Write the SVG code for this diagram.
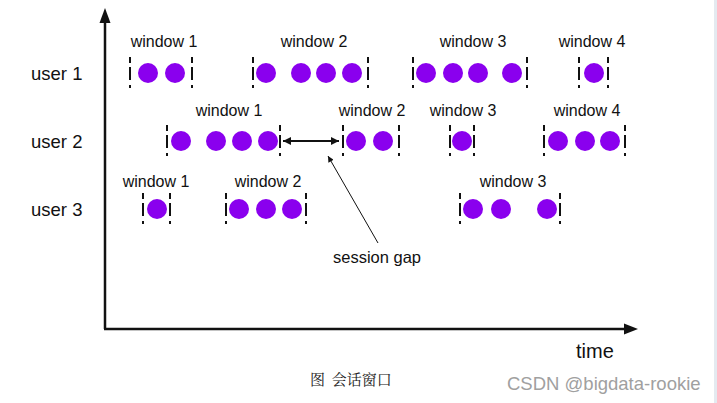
<svg xmlns="http://www.w3.org/2000/svg" width="717" height="403" viewBox="0 0 717 403">
<style>
.t{font-family:"Liberation Sans",Arial,sans-serif;fill:#111}
.w{font-size:16px;text-anchor:middle}
.u{font-size:18.5px}
.d{fill:#8a00ee}
.b{stroke:#111;stroke-width:2;stroke-dasharray:6 4 13 5 3}
.ax{stroke:#111;stroke-width:2.5;fill:none}
</style>
<defs>
<marker id="ah" viewBox="0 0 10 10" refX="10" refY="5" markerWidth="12" markerHeight="8" markerUnits="userSpaceOnUse" orient="auto-start-reverse"><path d="M0 0L10 5L0 10z" fill="#111"/></marker>
<marker id="ah2" viewBox="0 0 10 10" refX="10" refY="5" markerWidth="8" markerHeight="6" markerUnits="userSpaceOnUse" orient="auto"><path d="M0 0L10 5L0 10z" fill="#111"/></marker>
</defs>
<rect width="717" height="403" fill="#fff"/>
<rect x="714" y="0" width="3" height="403" fill="#e4eaf0"/>
<g id="axes">
<path class="ax" d="M105 329V22"/>
<path d="M105 8L99.5 23H110.5z" fill="#111"/>
<path class="ax" d="M104 329H626"/>
<path d="M638 329L624 323.5V334.5z" fill="#111"/>
<text class="t" x="576" y="358" style="font-size:20px">time</text>
</g>
<g id="labels">
<text class="t u" x="31" y="80">user 1</text>
<text class="t u" x="31" y="148">user 2</text>
<text class="t u" x="31" y="216">user 3</text>
</g>
<g id="u1w1"><text class="t w" x="164" y="47">window 1</text><path class="b" d="M130 57V88M192 57V88"/><circle class="d" cx="148" cy="73" r="10"/><circle class="d" cx="175" cy="73" r="10"/></g>
<g id="u1w2"><text class="t w" x="314" y="47">window 2</text><path class="b" d="M253 57V88M368 57V88"/><circle class="d" cx="266" cy="73" r="10"/><circle class="d" cx="301" cy="73" r="10"/><circle class="d" cx="326" cy="73" r="10"/><circle class="d" cx="352" cy="73" r="10"/></g>
<g id="u1w3"><text class="t w" x="473" y="47">window 3</text><path class="b" d="M413 57V88M527 57V88"/><circle class="d" cx="426" cy="73" r="10"/><circle class="d" cx="453" cy="73" r="10"/><circle class="d" cx="478" cy="73" r="10"/><circle class="d" cx="512" cy="73" r="10"/></g>
<g id="u1w4"><text class="t w" x="592" y="47">window 4</text><path class="b" d="M579 57V88M608 57V88"/><circle class="d" cx="594" cy="73" r="10"/></g>
<g id="u2w1"><text class="t w" x="229" y="116">window 1</text><path class="b" d="M167 125V156M280 125V156"/><circle class="d" cx="181" cy="141" r="10"/><circle class="d" cx="216" cy="141" r="10"/><circle class="d" cx="242" cy="141" r="10"/><circle class="d" cx="268" cy="141" r="10"/></g>
<g id="u2w2"><text class="t w" x="372" y="116">window 2</text><path class="b" d="M343 125V156M399 125V156"/><circle class="d" cx="356" cy="141" r="10"/><circle class="d" cx="383" cy="141" r="10"/></g>
<g id="u2w3"><text class="t w" x="463" y="116">window 3</text><path class="b" d="M450 125V156M474 125V156"/><circle class="d" cx="462" cy="141" r="10"/></g>
<g id="u2w4"><text class="t w" x="587" y="116">window 4</text><path class="b" d="M544 125V156M625 125V156"/><circle class="d" cx="558" cy="141" r="10"/><circle class="d" cx="585" cy="141" r="10"/><circle class="d" cx="610" cy="141" r="10"/></g>
<g id="u3w1"><text class="t w" x="156" y="187">window 1</text><path class="b" d="M143 193V224M170 193V224"/><circle class="d" cx="157" cy="209" r="10"/></g>
<g id="u3w2"><text class="t w" x="268" y="187">window 2</text><path class="b" d="M226 193V224M306 193V224"/><circle class="d" cx="239" cy="209" r="10"/><circle class="d" cx="266" cy="209" r="10"/><circle class="d" cx="292" cy="209" r="10"/></g>
<g id="u3w3"><text class="t w" x="513" y="187">window 3</text><path class="b" d="M460 193V224M560 193V224"/><circle class="d" cx="473" cy="209" r="10"/><circle class="d" cx="501" cy="209" r="10"/><circle class="d" cx="547" cy="209" r="10"/></g>
<g id="connectors">
<path d="M283 141H339" stroke="#111" stroke-width="2" marker-start="url(#ah)" marker-end="url(#ah)"/>
<path d="M378 243L328 156" stroke="#111" stroke-width="1" marker-end="url(#ah2)"/>
</g>
<g id="gaplabel"><text class="t w" x="377" y="263" style="font-size:16.5px">session gap</text></g>
<g id="caption">
<text x="310" y="385" style="font-family:'Noto Serif CJK SC','Noto Sans CJK SC',serif;font-size:15px;fill:#222;word-spacing:3px">图 会话窗口</text>
<text x="507" y="390" style="font-family:'Liberation Sans',Arial,sans-serif;font-size:18.5px;fill:#a0a0a0">CSDN @bigdata-rookie</text>
</g>
</svg>
